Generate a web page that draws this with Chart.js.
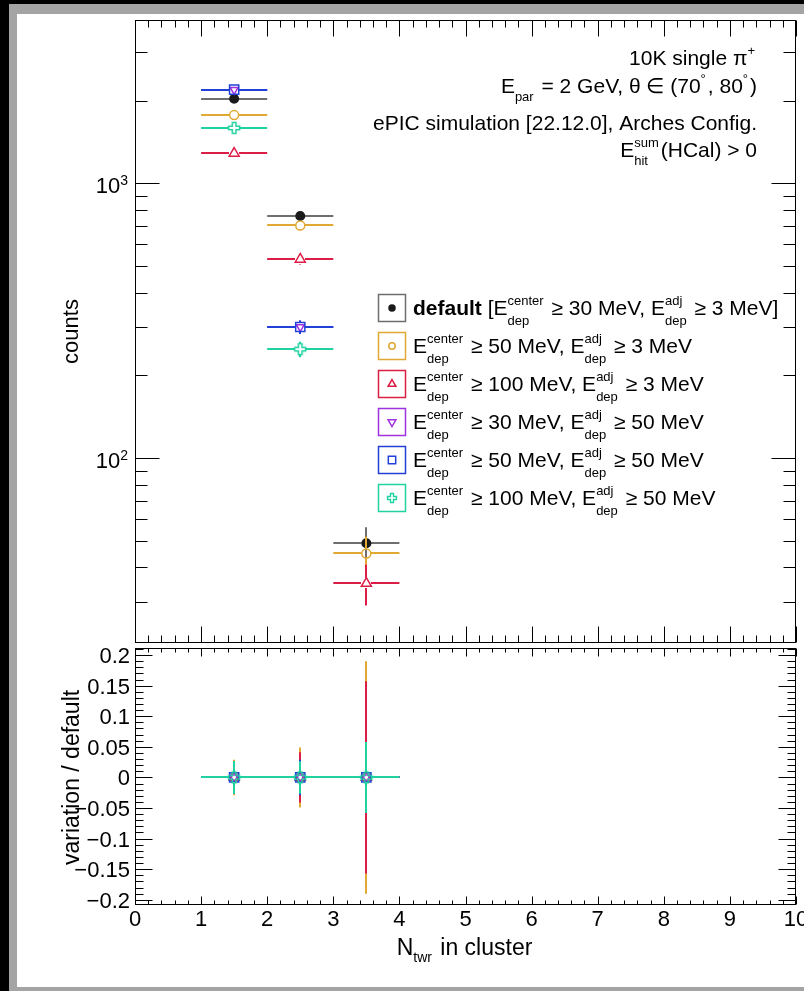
<!DOCTYPE html>
<html>
<head>
<meta charset="utf-8">
<script src="https://cdn.jsdelivr.net/npm/chart.js@4.4.1/dist/chart.umd.min.js"></script>
<style>
html, body { margin: 0; padding: 0; background: #000; overflow: hidden; }
#frame { position: absolute; left: 9px; top: 4px; width: 795px; height: 987px; background: #a4a4a4; }
#paper { position: absolute; left: 17px; top: 14px; width: 787px; height: 973px; background: #fff; }
canvas { position: absolute; left: 0; top: 0; }
</style>
</head>
<body>
<div id="frame"></div>
<div id="paper"></div>
<canvas id="upper" width="804" height="991"></canvas>
<canvas id="lower" width="804" height="991"></canvas>
<script>
// bin centres / half widths (N_twr in cluster)
var bins = [1.5, 2.5, 3.5];
var binHalf = [0.5, 0.5, 0.5];

// counts per variation (null = empty bin, not drawn on log scale)
var countsDefault = [2030, 760, 49];
var countsC50     = [1770, 702, 45];
var countsC100    = [1285, 529, 35];
var countsC30A50  = [2190, 300, null];
var countsC50A50  = [2190, 300, null];
var countsC100A50 = [1590, 249, null];

var errDefault = [45, 28, 7];
var errC50     = [42, 26, 6.7];
var errC100    = [36, 23, 5.9];
var errC30A50  = [47, 17, 0];
var errC50A50  = [47, 17, 0];
var errC100A50 = [40, 16, 0];

// variation / default (as plotted) and its errors
var ratioC50     = [0, 0, 0];
var ratioC100    = [0, 0, 0];
var ratioC30A50  = [0, 0, 0];
var ratioC50A50  = [0, 0, 0];
var ratioC100A50 = [0, 0, 0];

var ratioErrC50     = [0.029, 0.049, 0.19];
var ratioErrC100    = [0.025, 0.041, 0.157];
var ratioErrC30A50  = [0.02, 0.028, 0.05];
var ratioErrC50A50  = [0.02, 0.029, 0.05];
var ratioErrC100A50 = [0.027, 0.0265, 0.058];

// tick labels
var xTickValues = [0, 1, 2, 3, 4, 5, 6, 7, 8, 9, 10];
var xTickLabels = ['0', '1', '2', '3', '4', '5', '6', '7', '8', '9', '10'];
var countTickValues = [100, 1000];
var countTickExp = ['2', '3'];
var ratioTickValues = [0.2, 0.15, 0.1, 0.05, 0, -0.05, -0.1, -0.15, -0.2];
var ratioTickLabels = ['0.2', '0.15', '0.1', '0.05', '0', '\u22120.05', '\u22120.1', '\u22120.15', '\u22120.2'];

var legendLabels = [
  [{t: 'default', b: true}, {t: ' [E'}, {sup: 'center', sub: 'dep'}, {t: ' \u2265 30 MeV, E'}, {sup: 'adj', sub: 'dep'}, {t: ' \u2265 3 MeV]'}],
  [{t: 'E'}, {sup: 'center', sub: 'dep'}, {t: ' \u2265 50 MeV, E'}, {sup: 'adj', sub: 'dep'}, {t: ' \u2265 3 MeV'}],
  [{t: 'E'}, {sup: 'center', sub: 'dep'}, {t: ' \u2265 100 MeV, E'}, {sup: 'adj', sub: 'dep'}, {t: ' \u2265 3 MeV'}],
  [{t: 'E'}, {sup: 'center', sub: 'dep'}, {t: ' \u2265 30 MeV, E'}, {sup: 'adj', sub: 'dep'}, {t: ' \u2265 50 MeV'}],
  [{t: 'E'}, {sup: 'center', sub: 'dep'}, {t: ' \u2265 50 MeV, E'}, {sup: 'adj', sub: 'dep'}, {t: ' \u2265 50 MeV'}],
  [{t: 'E'}, {sup: 'center', sub: 'dep'}, {t: ' \u2265 100 MeV, E'}, {sup: 'adj', sub: 'dep'}, {t: ' \u2265 50 MeV'}]
];

var infoLines = [
  [{t: '10K single \u03c0'}, {sup: '+'}],
  [{t: 'E'}, {sub: 'par'}, {t: ' = 2 GeV, \u03b8 \u2208 (70'}, {sup: '\u00b0'}, {t: ', 80'}, {sup: '\u00b0'}, {t: ')'}],
  [{t: 'ePIC simulation [22.12.0], Arches Config.'}],
  [{t: 'E'}, {sup: 'sum', sub: 'hit'}, {t: '(HCal) > 0'}]
];

var FONT = '"Liberation Sans", Arial, Helvetica, sans-serif';
function font(size, bold) { return (bold ? 'bold ' : '') + size + 'px ' + FONT; }

function makeCross(color, half, arm, lw) {
  var s = Math.ceil(half * 2 + lw * 2 + 2);
  var c = document.createElement('canvas');
  c.width = s; c.height = s;
  var g = c.getContext('2d');
  g.translate(s / 2, s / 2);
  var p = [[-arm, -half], [arm, -half], [arm, -arm], [half, -arm], [half, arm], [arm, arm],
           [arm, half], [-arm, half], [-arm, arm], [-half, arm], [-half, -arm], [-arm, -arm]];
  g.beginPath();
  p.forEach(function (q, i) { if (i) g.lineTo(q[0], q[1]); else g.moveTo(q[0], q[1]); });
  g.closePath();
  g.strokeStyle = color; g.lineWidth = lw; g.stroke();
  return c;
}

// styles: default, c50, c100, c30a50, c50a50, c100a50
var styles = [
  {color: '#1a1a1a', line: '#6e6e6e', box: '#6e6e6e', shape: 'circle', rot: 0, r: 4.3, fill: true, lr: 3},
  {color: '#e1a833', line: '#e1a833', box: '#e1a833', shape: 'circle', rot: 0, r: 4.5, fill: false, lr: 3.2},
  {color: '#dc1e46', line: '#dc1e46', box: '#dc1e46', shape: 'triangle', rot: 0, r: 5.8, fill: false, lr: 4.5},
  {color: '#a030e0', line: '#a030e0', box: '#a030e0', shape: 'triangle', rot: 180, r: 4.6, fill: false, lr: 4.5},
  {color: '#2040d8', line: '#2040d8', box: '#2040d8', shape: 'rect', rot: 0, r: 6.5, fill: false, lr: 5.2},
  {color: '#20d2a0', line: '#20d2a0', box: '#20d2a0', shape: 'cross', rot: 0, r: 5, fill: false, lr: 4}
];
styles[5].img = makeCross(styles[5].color, 5.5, 1.8, 1.5);
styles[5].limg = makeCross(styles[5].color, 4.5, 1.5, 1.4);

function points(ys) { return bins.map(function (x, i) { return {x: x, y: ys[i]}; }); }

function makeSet(label, st, ys, errs, idx) {
  return {
    label: label,
    data: points(ys),
    showLine: false,
    pointStyle: st.img || st.shape,
    rotation: st.rot,
    pointRadius: st.r,
    pointBorderWidth: 1.5,
    borderColor: st.color,
    backgroundColor: st.fill ? st.color : 'rgba(0,0,0,0)',
    errColor: st.line,
    xErr: binHalf,
    yErr: errs,
    gap: Math.min(st.r, 5),
    order: 20 - idx
  };
}

// error bars drawn just before each dataset's markers, snapped to whole pixels
var errorBars = {
  id: 'errorBars',
  beforeDatasetDraw: function (chart, args) {
    var ds = chart.data.datasets[args.index];
    var xs = chart.scales.x, ys = chart.scales.y, ctx = chart.ctx;
    ctx.save();
    ctx.strokeStyle = ds.errColor;
    ctx.lineWidth = 2;
    ctx.beginPath();
    ds.data.forEach(function (p, i) {
      if (p.y === null || p.y === undefined) return;
      var px = Math.round(xs.getPixelForValue(p.x)), py = Math.round(ys.getPixelForValue(p.y));
      var g = ds.gap;
      var x0 = xs.getPixelForValue(p.x - ds.xErr[i]), x1 = xs.getPixelForValue(p.x + ds.xErr[i]);
      var y0 = ys.getPixelForValue(p.y + ds.yErr[i]), y1 = ys.getPixelForValue(p.y - ds.yErr[i]);
      ctx.moveTo(x0, py); ctx.lineTo(px - g, py);
      ctx.moveTo(px + g, py); ctx.lineTo(x1, py);
      if (py - y0 > g) { ctx.moveTo(px, y0); ctx.lineTo(px, py - g); }
      if (y1 - py > g) { ctx.moveTo(px, py + g); ctx.lineTo(px, y1); }
    });
    ctx.stroke();
    ctx.restore();
  }
};

// rich text with sub/superscripts
function partWidth(ctx, p, size, small) {
  if (p.t !== undefined) { ctx.font = font(size, p.b); return ctx.measureText(p.t).width; }
  ctx.font = font(small);
  var w1 = p.sup ? ctx.measureText(p.sup).width : 0;
  var w2 = p.sub ? ctx.measureText(p.sub).width : 0;
  return Math.max(w1, w2) + 2;
}
function drawRich(ctx, parts, x, y, size, align, opt) {
  opt = opt || {};
  var small = opt.small || Math.round(size * 0.62);
  var supOff = opt.supOff !== undefined ? opt.supOff : size * 0.48;
  var subOff = opt.subOff !== undefined ? opt.subOff : size * 0.45;
  var total = 0;
  parts.forEach(function (p) { total += partWidth(ctx, p, size, small); });
  var cx = align === 'right' ? x - total : (align === 'center' ? x - total / 2 : x);
  ctx.textAlign = 'left';
  ctx.textBaseline = 'alphabetic';
  parts.forEach(function (p) {
    var w = partWidth(ctx, p, size, small);
    if (p.t !== undefined) {
      ctx.font = font(size, p.b);
      ctx.fillText(p.t, cx, y);
    } else {
      ctx.font = font(small);
      if (p.sup) ctx.fillText(p.sup, cx, y - supOff);
      if (p.sub) ctx.fillText(p.sub, cx, y + subOff);
    }
    cx += w;
  });
}

function linTicks(min, max, step, majorEvery) {
  var out = [];
  var n0 = Math.ceil(min / step - 1e-9), n1 = Math.floor(max / step + 1e-9);
  for (var n = n0; n <= n1; n++) out.push({v: n * step, major: n % majorEvery === 0});
  return out;
}
function logTicks(min, max) {
  var out = [];
  [10, 100, 1000].forEach(function (d) {
    for (var k = 1; k <= 9; k++) {
      var v = k * d;
      if (v >= min && v <= max) out.push({v: v, major: k === 1});
    }
  });
  return out;
}

function framePlugin(cfg) {
  return {
    id: 'frame_' + cfg.name,
    afterDraw: function (chart) {
      var ctx = chart.ctx, a = chart.chartArea;
      var xs = chart.scales.x, ys = chart.scales.y;
      var L = Math.round(a.left) + 0.5, R = Math.round(a.right) - 0.5;
      var T = Math.round(a.top) + 0.5, B = Math.round(a.bottom) - 0.5;
      ctx.save();
      ctx.strokeStyle = '#000';
      ctx.lineWidth = 1;
      ctx.strokeRect(L, T, R - L, B - T);
      ctx.beginPath();
      cfg.xTicks.forEach(function (t) {
        var px = Math.round(xs.getPixelForValue(t.v)) + 0.5;
        var len = t.major ? cfg.xMajor : cfg.xMinor;
        ctx.moveTo(px, B); ctx.lineTo(px, B - len);
        ctx.moveTo(px, T); ctx.lineTo(px, T + len);
      });
      cfg.yTicks.forEach(function (t) {
        var py = Math.round(ys.getPixelForValue(t.v)) + 0.5;
        var len = t.major ? cfg.yMajor : cfg.yMinor;
        ctx.moveTo(L, py); ctx.lineTo(L + len, py);
        ctx.moveTo(R, py); ctx.lineTo(R - len, py);
      });
      ctx.stroke();
      ctx.fillStyle = '#000';
      cfg.labels(chart, ctx);
      ctx.restore();
    }
  };
}

function upperLabels(chart, ctx) {
  var ys = chart.scales.y;
  countTickValues.forEach(function (v, i) {
    var py = ys.getPixelForValue(v);
    drawRich(ctx, [{t: '10'}, {sup: countTickExp[i]}], 130, py + 10, 22, 'right', {small: 14, supOff: 8});
  });
  ctx.save();
  ctx.translate(78, (chart.chartArea.top + chart.chartArea.bottom) / 2);
  ctx.rotate(-Math.PI / 2);
  ctx.font = font(22);
  ctx.textAlign = 'center';
  ctx.textBaseline = 'alphabetic';
  ctx.fillText('counts', 0, 0);
  ctx.restore();

  // info text, top right
  var base = [65, 93, 130, 157];
  infoLines.forEach(function (ln, i) {
    drawRich(ctx, ln, 757, base[i], 21, 'right', {small: 13, supOff: 10, subOff: 8});
  });

  // legend
  var lx = 378, ly = 308, step = 38;
  legendLabels.forEach(function (parts, i) {
    var st = styles[i], cy = ly + i * step;
    ctx.save();
    ctx.strokeStyle = st.box;
    ctx.lineWidth = 1.5;
    ctx.strokeRect(lx + 0.5, cy - 13.5, 27, 27);
    ctx.strokeStyle = st.color;
    ctx.fillStyle = st.fill ? st.color : 'rgba(0,0,0,0)';
    Chart.helpers.drawPoint(ctx, {
      pointStyle: st.limg || st.shape, radius: st.lr, rotation: st.rot, borderWidth: 1.4
    }, lx + 14, cy);
    ctx.restore();
    ctx.fillStyle = '#000';
    drawRich(ctx, parts, 413, cy + 7, 21, 'left', {small: 13, supOff: 10, subOff: 10});
  });
}

function lowerLabels(chart, ctx) {
  var xs = chart.scales.x, ys = chart.scales.y;
  ctx.font = font(22);
  ctx.textBaseline = 'alphabetic';
  ctx.textAlign = 'right';
  ratioTickValues.forEach(function (v, i) {
    ctx.fillText(ratioTickLabels[i], 130, ys.getPixelForValue(v) + 8);
  });
  ctx.textAlign = 'center';
  xTickValues.forEach(function (v, i) {
    ctx.fillText(xTickLabels[i], xs.getPixelForValue(v), 926);
  });
  drawRich(ctx, [{t: 'N'}, {sub: 'twr'}, {t: ' in cluster'}], xs.getPixelForValue(5) - 1, 955, 23, 'center', {small: 14, subOff: 7});
  ctx.save();
  ctx.translate(79, ys.getPixelForValue(0));
  ctx.rotate(-Math.PI / 2);
  ctx.font = font(23);
  ctx.textAlign = 'center';
  ctx.fillText('variation / default', 0, 0);
  ctx.restore();
}

function baseOptions(pad, yScale) {
  return {
    responsive: false,
    animation: false,
    events: [],
    layout: {padding: pad},
    plugins: {legend: {display: false}, tooltip: {enabled: false}},
    scales: {
      x: {type: 'linear', min: 0, max: 10, display: false},
      y: yScale
    }
  };
}

var countMin = 21.25, countMax = 3926;
var ratioMin = -0.2085, ratioMax = 0.2115;

new Chart(document.getElementById('upper'), {
  type: 'scatter',
  data: {
    datasets: [
      makeSet('default', styles[0], countsDefault, errDefault, 0),
      makeSet('c50', styles[1], countsC50, errC50, 1),
      makeSet('c100', styles[2], countsC100, errC100, 2),
      makeSet('c30a50', styles[3], countsC30A50, errC30A50, 3),
      makeSet('c50a50', styles[4], countsC50A50, errC50A50, 4),
      makeSet('c100a50', styles[5], countsC100A50, errC100A50, 5)
    ]
  },
  options: baseOptions({left: 135, top: 20, right: 7, bottom: 348},
    {type: 'logarithmic', min: countMin, max: countMax, display: false}),
  plugins: [errorBars, framePlugin({
    name: 'upper',
    xTicks: linTicks(0, 10, 0.2, 5), xMajor: 16, xMinor: 7,
    yTicks: logTicks(countMin, countMax), yMajor: 24, yMinor: 12,
    labels: upperLabels
  })]
});

new Chart(document.getElementById('lower'), {
  type: 'scatter',
  data: {
    datasets: [
      makeSet('c50', styles[1], ratioC50, ratioErrC50, 1),
      makeSet('c100', styles[2], ratioC100, ratioErrC100, 2),
      makeSet('c30a50', styles[3], ratioC30A50, ratioErrC30A50, 3),
      makeSet('c50a50', styles[4], ratioC50A50, ratioErrC50A50, 4),
      makeSet('c100a50', styles[5], ratioC100A50, ratioErrC100A50, 5)
    ]
  },
  options: baseOptions({left: 135, top: 648, right: 7, bottom: 86},
    {type: 'linear', min: ratioMin, max: ratioMax, display: false}),
  plugins: [errorBars, framePlugin({
    name: 'lower',
    xTicks: linTicks(0, 10, 0.2, 5), xMajor: 8, xMinor: 4,
    yTicks: linTicks(ratioMin, ratioMax, 0.01, 5), yMajor: 17, yMinor: 8,
    labels: lowerLabels
  })]
});
</script>
</body>
</html>
